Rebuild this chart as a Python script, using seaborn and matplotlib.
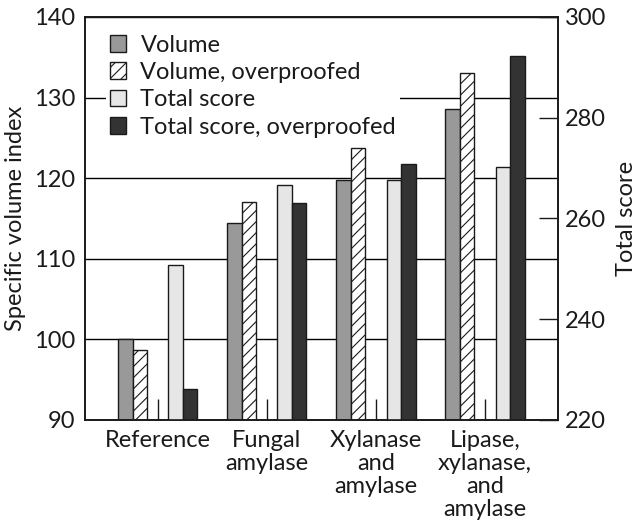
import numpy as np
import matplotlib
matplotlib.use("Agg")
import matplotlib.pyplot as plt
import seaborn as sns
from matplotlib.patches import Patch

# values
groups = ["Reference", "Fungal\namylase", "Xylanase\nand\namylase",
          "Lipase,\nxylanase,\nand\namylase"]
volume = [100.0, 114.4, 119.8, 128.6]
volume_over = [98.7, 117.0, 123.8, 133.0]
score = [250.8, 266.7, 267.7, 270.2]
score_over = [226.2, 263.0, 270.9, 292.3]
labels = ["Volume", "Volume, overproofed", "Total score", "Total score, overproofed"]

sns.set_style("ticks")
plt.rcParams['font.family'] = ['Lato', 'DejaVu Sans']
plt.rcParams['hatch.linewidth'] = 0.8
fs = 17

fig, ax = plt.subplots(figsize=(6.37, 5.23), dpi=100)
fig.subplots_adjust(left=0.1334, right=0.8755, top=0.9675, bottom=0.197)
ax2 = ax.twinx()

pos = np.arange(len(groups))
w = 0.133
ec = '#1a1a1a'
styles = [
    (ax, volume, -0.297, '#999999', None),
    (ax, volume_over, -0.164, 'white', '///'),
    (ax2, score, 0.164, '#e6e6e6', None),
    (ax2, score_over, 0.297, '#333333', None),
]
for axis, vals, off, col, h in styles:
    sns.barplot(x=pos + off, y=vals, ax=axis, native_scale=True, width=w,
                color=col, saturation=1, edgecolor=ec, linewidth=1,
                hatch=h, errorbar=None)

ax.set_xlim(-0.667, 3.667)
ax.set_ylim(90, 140)
ax.set_yticks(range(90, 141, 10))
ax2.set_ylim(220, 300)
ax2.set_yticks(range(220, 301, 20))

ax.grid(axis='y', color='black', lw=1)
ax.set_axisbelow(True)

ax.set_xticks(pos)
ax.set_xticklabels(groups, fontsize=fs, linespacing=1.12)
ax.tick_params(axis='x', direction='in', length=15, width=1, pad=7, colors='#1a1a1a')
ax.tick_params(axis='y', direction='in', length=0, pad=7, labelsize=fs, colors='#1a1a1a')
ax2.tick_params(axis='y', direction='in', length=14, width=1, pad=5, labelsize=fs, colors='#1a1a1a')

ax.set_ylabel("Specific volume index", fontsize=fs, color='#1a1a1a', labelpad=6)
ax2.set_ylabel("Total score", fontsize=fs, color='#1a1a1a', labelpad=7)
ax.set_xlabel("")
for a in (ax, ax2):
    for s in a.spines.values():
        s.set_visible(True)
        s.set_linewidth(1.2)
        s.set_color('#1a1a1a')

handles = [Patch(facecolor=c, edgecolor=ec, hatch=h, lw=1) for _, _, _, c, h in styles]
leg = ax2.legend(handles, labels, loc='upper left', bbox_to_anchor=(0.045, 0.965),
                 fontsize=fs, frameon=True, fancybox=False, framealpha=1,
                 edgecolor='none', facecolor='white', handlelength=0.7,
                 handleheight=0.7, labelspacing=0.27, handletextpad=0.6,
                 borderpad=0.15, borderaxespad=0)
for t in leg.get_texts():
    t.set_color('#1a1a1a')

plt.savefig("out.png", dpi=100)
